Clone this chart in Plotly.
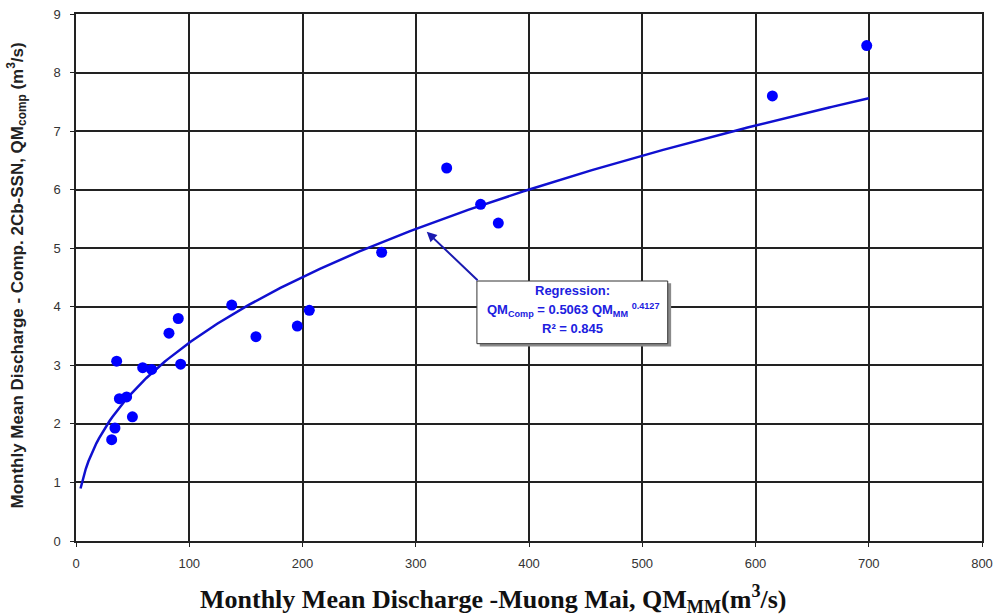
import numpy as np
import plotly.graph_objects as go

qm_mm = [31.5, 34.4, 35.9, 38.3, 44.7, 49.8, 58.9, 66.8, 82.1, 90.3, 92.4,
         137.5, 158.9, 195.4, 206.0, 269.9, 327.3, 357.3, 372.9, 614.9, 698.2]
qm_comp = [1.73, 1.93, 3.07, 2.43, 2.46, 2.12, 2.96, 2.93, 3.55, 3.80, 3.02,
           4.03, 3.49, 3.67, 3.94, 4.93, 6.37, 5.75, 5.43, 7.60, 8.46]

# Regression stated on the chart: QMcomp = 0.5063 * QMmm ^ 0.4127
reg_a = 0.5063
reg_b = 0.4127
reg_x_min = 4.0
reg_x_max = 700.0

x_ticks = [0, 100, 200, 300, 400, 500, 600, 700, 800]
y_ticks = [0, 1, 2, 3, 4, 5, 6, 7, 8, 9]

reg_x = np.linspace(reg_x_min, reg_x_max, 300)
reg_y = reg_a * reg_x ** reg_b

BLUE = "#0000ff"
TXT_BLUE = "#2020e0"

M_L, M_R, M_T, M_B = 76, 24, 7, 75
W, H = 1006, 616
plot_w = W - M_L - M_R
plot_h = H - M_T - M_B


def px_to_paper(px, py):
    return (px - M_L) / plot_w, (H - M_B - py) / plot_h


fig = go.Figure()
fig.add_trace(go.Scatter(x=reg_x, y=reg_y, mode="lines",
                         line=dict(color="#1010d0", width=2.5),
                         hoverinfo="skip", showlegend=False))
fig.add_trace(go.Scatter(x=qm_mm, y=qm_comp, mode="markers",
                         marker=dict(color=BLUE, size=11, line=dict(width=0)),
                         showlegend=False))

# Regression text box with shadow
fig.add_shape(type="rect", xref="x", yref="y", x0=356.5, x1=525.5, y0=3.32, y1=4.40,
              fillcolor="#8a8a8a", line=dict(width=0), layer="above")
fig.add_shape(type="rect", xref="x", yref="y", x0=354, x1=522.5, y0=3.37, y1=4.44,
              fillcolor="white", line=dict(color="#333333", width=1), layer="above")

fig.add_annotation(x=309.7, y=5.28, ax=355.9, ay=4.43, xref="x", yref="y",
                   axref="x", ayref="y", text="", showarrow=True,
                   arrowhead=2, arrowsize=1, arrowwidth=2, arrowcolor="#1a1ab0")

box_font = dict(family="Liberation Sans, Arial", size=13, color=TXT_BLUE)
fig.add_annotation(x=438.5, y=4.27, xref="x", yref="y", showarrow=False,
                   text="<b>Regression:</b>", font=box_font)
fig.add_annotation(x=438.5, y=3.95, xref="x", yref="y", showarrow=False,
                   text="<b>QM<sub>Comp</sub> = 0.5063 QM<sub>MM</sub> <sup>0.4127</sup></b>",
                   font=box_font)
fig.add_annotation(x=438.5, y=3.63, xref="x", yref="y", showarrow=False,
                   text="<b>R² = 0.845</b>", font=box_font)

# Y-axis title (rotated)
yx, yy = px_to_paper(17, 272)
fig.add_annotation(x=yx, y=yy, xref="paper", yref="paper", showarrow=False,
                   textangle=-90, xanchor="center", yanchor="middle",
                   text="<b>Monthly Mean Discharge - Comp. 2Cb-SSN, QM<sub>comp</sub> (m<sup>3</sup>/s)</b>",
                   font=dict(family="Liberation Sans, Arial", size=17, color="#222222"))

# X-axis title
xx, xy = px_to_paper(493, 600)
fig.add_annotation(x=xx, y=xy, xref="paper", yref="paper", showarrow=False,
                   xanchor="center", yanchor="middle",
                   text="<b>Monthly Mean Discharge -Muong Mai, QM<sub>MM</sub>(m<sup>3</sup>/s)</b>",
                   font=dict(family="Liberation Serif, Times New Roman", size=26, color="#111111"))

fig.update_xaxes(range=[0, 800], tickvals=x_ticks, ticktext=[str(v) for v in x_ticks],
                 showgrid=True, gridcolor="#222222", gridwidth=1.5,
                 showline=True, linecolor="#222222", linewidth=1.5, mirror=True,
                 ticks="outside", ticklen=4, tickcolor="#222222", zeroline=False,
                 ticklabelstandoff=6,
                 tickfont=dict(family="Liberation Sans, Arial", size=13, color="#333333"))
fig.update_yaxes(range=[0, 9], tickvals=y_ticks, ticktext=[str(v) for v in y_ticks],
                 showgrid=True, gridcolor="#222222", gridwidth=1.5,
                 showline=True, linecolor="#222222", linewidth=1.5, mirror=True,
                 ticks="outside", ticklen=4, tickcolor="#222222", zeroline=False,
                 ticklabelstandoff=7,
                 tickfont=dict(family="Liberation Sans, Arial", size=13, color="#333333"))

fig.update_layout(width=W, height=H, plot_bgcolor="white", paper_bgcolor="white",
                  margin=dict(l=M_L, r=M_R, t=M_T, b=M_B), showlegend=False)

fig.write_html("out.html")
